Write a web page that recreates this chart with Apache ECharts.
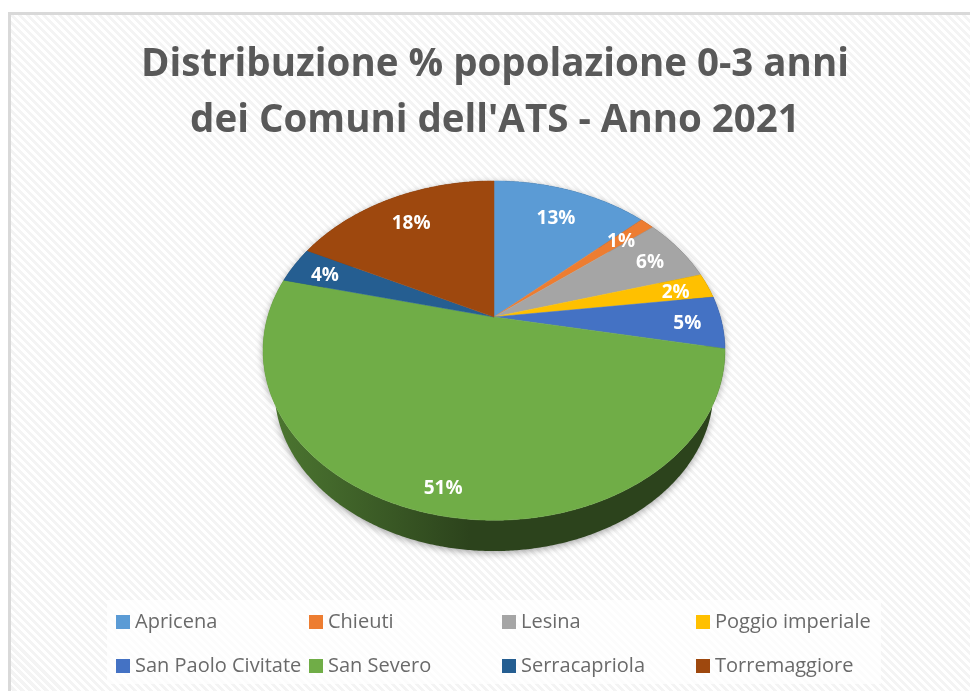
<!DOCTYPE html>
<html>
<head>
<meta charset="utf-8">
<script src="https://cdn.jsdelivr.net/npm/echarts@6/dist/echarts.min.js"></script>
<style>
html,body{margin:0;padding:0;background:#fff;width:970px;height:691px;overflow:hidden}
#frame{position:absolute;left:8px;top:12px;width:970px;height:700px;border:3px solid #d9d9d9;box-sizing:border-box;
background:repeating-linear-gradient(45deg,#ffffff 0,#ffffff 2.8px,#f4f4f4 2.8px,#f4f4f4 5.66px)}
#chart{position:absolute;left:0;top:0;width:970px;height:691px}
</style>
</head>
<body>
<div id="frame"></div>
<div id="chart"></div>
<script>
const titleText = "Distribuzione % popolazione 0-3 anni\ndei Comuni dell'ATS - Anno 2021";
const categories = ["Apricena","Chieuti","Lesina","Poggio imperiale","San Paolo Civitate","San Severo","Serracapriola","Torremaggiore"];
const shares = [13.2,1.2,6.2,2.4,5.0,50.8,3.5,17.7];
const colors = ["#5b9bd5","#ed7d31","#a5a5a5","#ffc000","#4472c4","#70ad47","#255e91","#9e480e"];

const total = shares.reduce((a,b)=>a+b,0);
const CX = 494, CY = 317, R = 226.4, RY = 163, K = 0.198;
const WALL_SCALE = 0.95, WALL_DROP = 41;

function project(theta, r){
  const x = Math.sin(theta)*r, y = -Math.cos(theta)*r, d = 1 - K*y;
  return [R*x/d, RY*y/d];
}
function arc(a0, a1, f){
  const n = Math.max(2, Math.ceil((a1-a0)/0.008)), pts = [];
  for(let i=0;i<=n;i++){ pts.push(f(project(a0+(a1-a0)*i/n,1))); }
  return pts;
}
const onTop = p => [CX+p[0], CY+p[1]];
const onBase = p => [CX+p[0]*WALL_SCALE, CY+p[1]*WALL_SCALE+WALL_DROP];
function shade(hex, m){
  const n = parseInt(hex.slice(1),16);
  const c = [n>>16&255,n>>8&255,n&255].map(v=>Math.round(v*m));
  return 'rgb('+c.join(',')+')';
}

function renderSlice(index){
  return function(params, api){
    const v = api.value(0);
    let before = 0;
    for(let i=0;i<index;i++) before += shares[i];
    const a0 = before/total*2*Math.PI, a1 = (before+v)/total*2*Math.PI;
    const mid = (a0+a1)/2;
    const topArc = arc(a0,a1,onTop);
    const baseArc = arc(a0,a1,onBase).reverse();
    const frac = v/total;
    const sn = Math.sin(mid);
    const rl = frac>0.4 ? 0.88 : 0.76+0.09*sn*sn;
    const lp = onTop(project(mid,rl));
    return {type:'group',children:[
      {type:'polygon',z2:1,shape:{points:topArc.concat(baseArc)},
       style:{fill:{type:'linear',global:true,x:270,y:0,x2:470,y2:0,colorStops:[
         {offset:0,color:shade(colors[index],0.68)},
         {offset:0.3,color:shade(colors[index],0.6)},
         {offset:1,color:shade(colors[index],0.39)}]},
         shadowBlur:7,shadowColor:'rgba(0,0,0,0.35)',shadowOffsetY:2}},
      {type:'polygon',z2:2,shape:{points:[[CX,CY]].concat(topArc)},
       style:{fill:colors[index],stroke:colors[index],lineWidth:0.5}},
      {type:'text',z2:3,x:lp[0],y:lp[1]+2.5,
       style:{text:Math.round(v/total*100)+'%',fill:'#ffffff',fontFamily:'Open Sans',fontWeight:700,fontSize:19,
              align:'center',verticalAlign:'middle'}}
    ]};
  };
}

const legendCols = [116,309,502,696];
const legends = legendCols.map((left,c)=>({
  orient:'vertical',left:left,top:612,padding:0,itemWidth:14,itemHeight:14,itemGap:24,
  icon:'rect',selectedMode:false,
  textStyle:{fontFamily:'Open Sans',fontSize:20,color:'#6a6a6a'},
  data:[categories[c],categories[c+4]]
}));

const chart = echarts.init(document.getElementById('chart'),null,{renderer:'canvas'});
chart.setOption({
  animation:false,
  backgroundColor:'transparent',
  title:{text:titleText,left:495,top:37,padding:0,itemGap:0,textAlign:'center',
    textStyle:{fontFamily:'Open Sans',fontWeight:700,fontSize:38.5,lineHeight:56,color:'#595959',align:'center'}},
  legend:legends,
  graphic:[{type:'rect',z:-1,silent:true,shape:{x:107,y:600,width:774,height:84},style:{fill:'rgba(255,255,255,0.75)'}}],
  series:categories.map((name,i)=>({
    type:'custom',name:name,coordinateSystem:'none',silent:true,
    itemStyle:{color:colors[i]},
    renderItem:renderSlice(i),
    data:[[shares[i]]]
  }))
});
</script>
</body>
</html>
